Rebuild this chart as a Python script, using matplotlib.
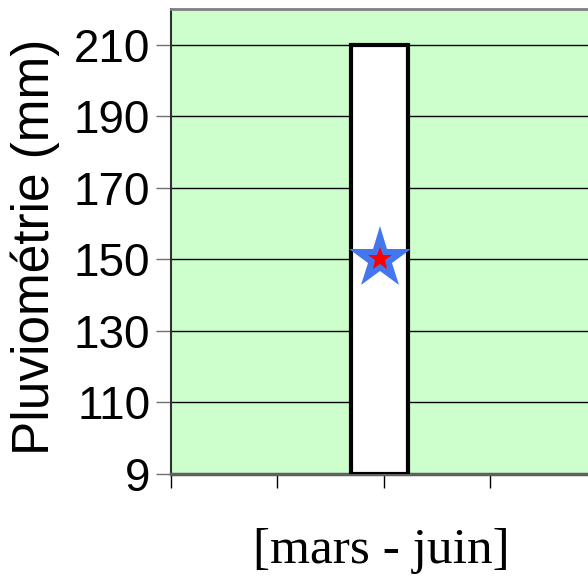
import numpy as np
import matplotlib.pyplot as plt

# data
period = "[mars - juin]"
rain_min = 90
rain_max = 210
rain_mean = 150
yticks = [90, 110, 130, 150, 170, 190, 210]
ytick_labels = ["9", "110", "130", "150", "170", "190", "210"]

fig = plt.figure(figsize=(5.88, 5.82), dpi=100)
ax = fig.add_axes([0.2908, 0.1856, 0.7245, 0.799])
ax.set_facecolor("#CCFFCC")

# min-max range as a white bar, mean as a star
xpos = 1.96
ax.bar(xpos, rain_max - rain_min, bottom=rain_min, width=0.54,
       color="white", edgecolor="black", linewidth=3, zorder=3)
ax.plot(xpos, rain_mean, marker="*", markersize=47, color="#4477EE",
        markeredgewidth=0, zorder=4)
ax.plot(xpos, rain_mean, marker="*", markersize=18, color="red",
        markeredgewidth=0, zorder=5)

ax.set_xlim(0, 4)
ax.set_ylim(90, 220)
ax.set_yticks(yticks)
ax.set_yticklabels(ytick_labels)
ax.set_xticks([0, 1, 2, 3, 4])
ax.set_xticklabels([])

ax.grid(axis="y", color="black", linewidth=1, zorder=1)
ax.set_axisbelow(True)

ax.tick_params(axis="y", direction="out", length=11, width=1, color="#707070",
               labelsize=33, pad=4)
ax.tick_params(axis="x", direction="out", length=10, width=1, color="black")
for lab in ax.get_yticklabels():
    lab.set_fontfamily("Liberation Sans")

ax.spines["top"].set_color("#808080")
ax.spines["top"].set_linewidth(2)
ax.spines["left"].set_color("#303030")
ax.spines["left"].set_linewidth(1.5)
ax.spines["bottom"].set_color("#606060")
ax.spines["bottom"].set_linewidth(2.5)
ax.spines["right"].set_visible(False)

ax.set_ylabel("Pluviométrie (mm)", fontsize=37, family="Liberation Sans")
ax.yaxis.set_label_coords(-0.26, 0.488)
fig.text(381 / 588, 1 - 551 / 582, period, fontsize=37, family="Liberation Serif",
         ha="center", va="center")

fig.savefig("out.png", dpi=100)
